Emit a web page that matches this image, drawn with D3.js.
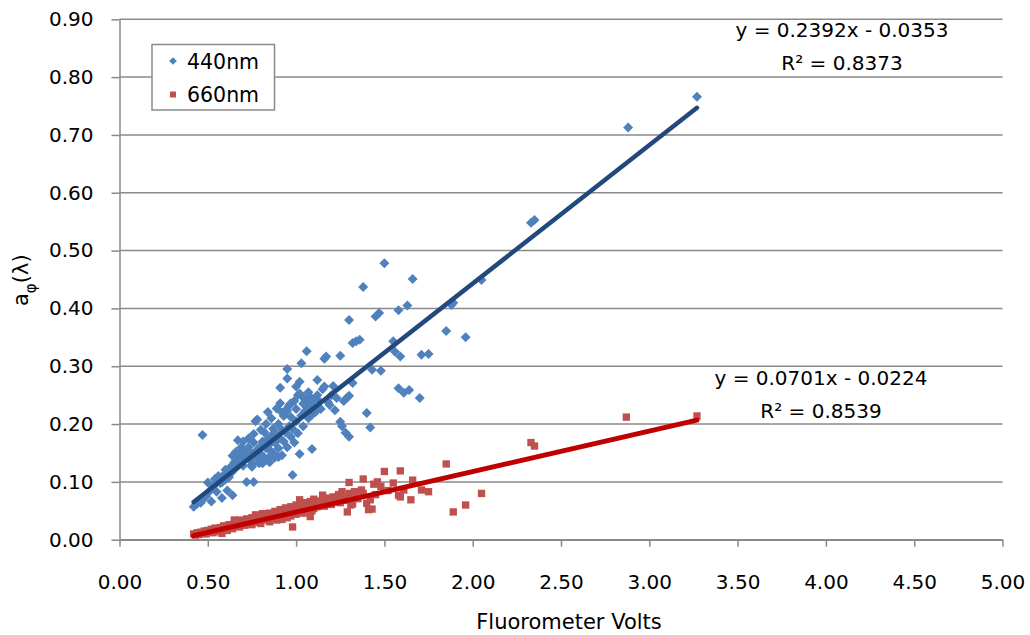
<!DOCTYPE html>
<html><head><meta charset="utf-8">
<script src="https://cdn.jsdelivr.net/npm/d3@7"></script>
<style>body{margin:0;background:#fff}svg{display:block}text{font-family:"DejaVu Sans",sans-serif;fill:#000}</style>
</head><body><svg id="c" width="1030" height="635"></svg>
<script>
const xTicks=[0,0.5,1,1.5,2,2.5,3,3.5,4,4.5,5];
const yTicks=[0,0.1,0.2,0.3,0.4,0.5,0.6,0.7,0.8,0.9];
const seriesNames=["440nm","660nm"];
const fit440={slope:0.2392,intercept:-0.0353,r2:0.8373};
const fit660={slope:0.0701,intercept:-0.0224,r2:0.8539};
const s440=[[0.42,0.057],[0.44,0.062],[0.46,0.064],[0.47,0.069],[0.47,0.181],[0.49,0.075],[0.50,0.099],[0.51,0.084],[0.52,0.066],[0.53,0.092],[0.54,0.105],[0.55,0.083],[0.56,0.110],[0.57,0.098],[0.58,0.072],[0.58,0.099],[0.59,0.112],[0.60,0.121],[0.60,0.104],[0.61,0.085],[0.62,0.108],[0.62,0.115],[0.63,0.126],[0.64,0.077],[0.64,0.118],[0.64,0.145],[0.65,0.134],[0.66,0.140],[0.66,0.152],[0.67,0.172],[0.67,0.127],[0.68,0.149],[0.69,0.136],[0.69,0.160],[0.70,0.155],[0.70,0.128],[0.70,0.170],[0.71,0.145],[0.72,0.100],[0.72,0.144],[0.73,0.160],[0.73,0.175],[0.74,0.138],[0.74,0.152],[0.75,0.130],[0.75,0.126],[0.76,0.100],[0.76,0.168],[0.76,0.183],[0.77,0.144],[0.77,0.205],[0.78,0.156],[0.78,0.208],[0.79,0.135],[0.79,0.132],[0.80,0.162],[0.80,0.148],[0.80,0.190],[0.81,0.170],[0.81,0.132],[0.82,0.142],[0.82,0.186],[0.83,0.158],[0.83,0.138],[0.83,0.200],[0.84,0.221],[0.84,0.175],[0.85,0.134],[0.85,0.165],[0.85,0.144],[0.86,0.210],[0.86,0.180],[0.86,0.152],[0.87,0.150],[0.87,0.192],[0.88,0.168],[0.88,0.142],[0.89,0.227],[0.89,0.182],[0.90,0.200],[0.90,0.158],[0.90,0.143],[0.91,0.263],[0.91,0.175],[0.91,0.236],[0.92,0.190],[0.92,0.146],[0.92,0.220],[0.93,0.214],[0.93,0.170],[0.94,0.224],[0.94,0.186],[0.95,0.295],[0.95,0.279],[0.95,0.160],[0.95,0.223],[0.96,0.196],[0.96,0.232],[0.97,0.178],[0.97,0.212],[0.97,0.236],[0.98,0.112],[0.98,0.192],[0.99,0.240],[0.99,0.168],[1.00,0.205],[1.00,0.226],[1.00,0.265],[1.01,0.184],[1.01,0.250],[1.02,0.273],[1.02,0.148],[1.02,0.253],[1.03,0.305],[1.03,0.215],[1.04,0.235],[1.04,0.196],[1.04,0.247],[1.05,0.242],[1.05,0.222],[1.06,0.326],[1.06,0.230],[1.07,0.210],[1.07,0.255],[1.08,0.247],[1.08,0.238],[1.09,0.157],[1.09,0.216],[1.10,0.230],[1.10,0.242],[1.11,0.221],[1.12,0.276],[1.12,0.250],[1.13,0.240],[1.14,0.226],[1.15,0.260],[1.16,0.313],[1.16,0.265],[1.17,0.317],[1.18,0.238],[1.19,0.233],[1.20,0.250],[1.21,0.266],[1.22,0.224],[1.23,0.245],[1.25,0.318],[1.25,0.204],[1.26,0.196],[1.27,0.240],[1.28,0.185],[1.29,0.246],[1.30,0.380],[1.30,0.178],[1.30,0.249],[1.32,0.271],[1.32,0.340],[1.34,0.343],[1.36,0.346],[1.38,0.437],[1.40,0.219],[1.42,0.194],[1.43,0.294],[1.45,0.386],[1.47,0.392],[1.48,0.292],[1.50,0.478],[1.55,0.343],[1.56,0.325],[1.58,0.262],[1.58,0.397],[1.59,0.317],[1.61,0.254],[1.63,0.405],[1.64,0.259],[1.66,0.451],[1.70,0.245],[1.71,0.320],[1.75,0.321],[1.85,0.361],[1.88,0.406],[1.89,0.410],[1.96,0.350],[2.05,0.449],[2.33,0.548],[2.35,0.553],[2.88,0.713],[3.27,0.766]];
const s660=[[0.42,0.010],[0.43,0.008],[0.44,0.012],[0.45,0.009],[0.46,0.013],[0.47,0.011],[0.48,0.015],[0.49,0.010],[0.50,0.016],[0.51,0.013],[0.52,0.018],[0.53,0.012],[0.54,0.020],[0.55,0.016],[0.56,0.014],[0.57,0.021],[0.58,0.011],[0.58,0.018],[0.59,0.024],[0.60,0.020],[0.61,0.016],[0.62,0.026],[0.63,0.022],[0.64,0.019],[0.65,0.028],[0.65,0.034],[0.66,0.024],[0.67,0.030],[0.68,0.022],[0.68,0.034],[0.69,0.027],[0.70,0.032],[0.71,0.025],[0.72,0.036],[0.72,0.029],[0.73,0.033],[0.74,0.031],[0.75,0.038],[0.75,0.026],[0.76,0.034],[0.77,0.043],[0.77,0.030],[0.78,0.037],[0.79,0.033],[0.80,0.040],[0.80,0.028],[0.81,0.045],[0.82,0.035],[0.83,0.041],[0.83,0.034],[0.84,0.038],[0.85,0.046],[0.85,0.031],[0.86,0.040],[0.87,0.036],[0.88,0.049],[0.88,0.042],[0.89,0.034],[0.90,0.045],[0.90,0.039],[0.91,0.052],[0.92,0.041],[0.92,0.035],[0.93,0.047],[0.94,0.043],[0.94,0.055],[0.95,0.038],[0.95,0.050],[0.96,0.046],[0.97,0.041],[0.97,0.057],[0.98,0.022],[0.98,0.052],[0.99,0.047],[1.00,0.060],[1.00,0.044],[1.01,0.054],[1.02,0.069],[1.02,0.049],[1.03,0.058],[1.04,0.046],[1.05,0.064],[1.05,0.052],[1.06,0.060],[1.07,0.055],[1.08,0.040],[1.08,0.066],[1.09,0.050],[1.10,0.054],[1.10,0.070],[1.11,0.061],[1.12,0.057],[1.13,0.067],[1.14,0.063],[1.15,0.077],[1.16,0.058],[1.17,0.068],[1.18,0.064],[1.19,0.072],[1.20,0.061],[1.21,0.074],[1.22,0.066],[1.23,0.070],[1.24,0.078],[1.25,0.064],[1.26,0.083],[1.27,0.072],[1.28,0.068],[1.29,0.048],[1.30,0.099],[1.30,0.080],[1.31,0.060],[1.32,0.062],[1.33,0.083],[1.34,0.075],[1.35,0.071],[1.37,0.086],[1.38,0.105],[1.38,0.080],[1.40,0.063],[1.41,0.052],[1.42,0.069],[1.43,0.053],[1.44,0.096],[1.45,0.078],[1.46,0.100],[1.48,0.092],[1.50,0.118],[1.52,0.085],[1.55,0.098],[1.58,0.077],[1.59,0.074],[1.59,0.119],[1.61,0.086],[1.65,0.069],[1.66,0.103],[1.71,0.086],[1.75,0.083],[1.85,0.131],[1.89,0.048],[1.96,0.060],[2.05,0.080],[2.33,0.168],[2.35,0.162],[2.87,0.212],[3.27,0.214]];

const svg=d3.select("#c");
const x=d3.scaleLinear().domain([0,5]).range([119.5,1002.5]);
const y=d3.scaleLinear().domain([0,0.9]).range([539.7,19.3]);
const grid="#8a8a8a";

svg.append("g").selectAll("line").data(yTicks).join("line")
 .attr("x1",x(0)).attr("x2",x(5)).attr("y1",d=>y(d)).attr("y2",d=>y(d))
 .attr("stroke",grid).attr("stroke-width",1.5);

const yAx=svg.append("g").attr("transform",`translate(${x(0)},0)`)
 .call(d3.axisLeft(y).tickValues(yTicks).tickFormat(d3.format(".2f")).tickSizeInner(8).tickSizeOuter(0).tickPadding(18));
const xAx=svg.append("g").attr("transform",`translate(0,${y(0)})`)
 .call(d3.axisBottom(x).tickValues(xTicks).tickFormat(d3.format(".2f")).tickSizeInner(7).tickSizeOuter(0).tickPadding(28));
[yAx,xAx].forEach(g=>{
  g.select(".domain").attr("stroke",grid).attr("stroke-width",1.5);
  g.selectAll(".tick line").attr("stroke",grid).attr("stroke-width",1.5);
  g.selectAll("text").attr("font-family","DejaVu Sans").attr("font-size",20).attr("fill","#000");
});

const diamond=d3.symbol().type(d3.symbolSquare).size(50)();
const square=d3.symbol().type(d3.symbolSquare).size(54)();
svg.append("g").selectAll("path").data(s440).join("path")
 .attr("d",diamond).attr("transform",d=>`translate(${x(d[0])},${y(d[1])}) rotate(45)`)
 .attr("fill","#4F81BD");
svg.append("g").selectAll("path").data(s660).join("path")
 .attr("d",square).attr("transform",d=>`translate(${x(d[0])},${y(d[1])})`)
 .attr("fill","#C0504D");

function trend(data,fit,color,w){
  const ext=d3.extent(data,d=>d[0]);
  svg.append("line").attr("x1",x(ext[0])).attr("y1",y(fit.slope*ext[0]+fit.intercept))
   .attr("x2",x(ext[1])).attr("y2",y(fit.slope*ext[1]+fit.intercept))
   .attr("stroke",color).attr("stroke-width",w).attr("stroke-linecap","round");
}
trend(s440,fit440,"#22497E",4.5);
trend(s660,fit660,"#C00000",5);

function eq(fit,cx,by){
  const g=svg.append("g").attr("font-size",20);
  g.append("text").attr("x",cx).attr("y",by).attr("text-anchor","middle")
   .text(`y = ${fit.slope.toFixed(4)}x - ${Math.abs(fit.intercept).toFixed(4)}`);
  g.append("text").attr("x",cx).attr("y",by+33).attr("text-anchor","middle")
   .text(`R² = ${fit.r2.toFixed(4)}`);
}
eq(fit440,842,37);
eq(fit660,821,385);

const lg=svg.append("g");
lg.append("rect").attr("x",152).attr("y",44.5).attr("width",122.5).attr("height",65.5)
 .attr("fill","#fff").attr("stroke",grid).attr("stroke-width",1.5);
lg.append("path").attr("d",d3.symbol().type(d3.symbolSquare).size(30)()).attr("transform","translate(173,61) rotate(45)").attr("fill","#4F81BD");
lg.append("path").attr("d",d3.symbol().type(d3.symbolSquare).size(36)()).attr("transform","translate(173,94.5)").attr("fill","#C0504D");
lg.append("text").attr("x",187).attr("y",69).attr("font-size",20.5).text(seriesNames[0]);
lg.append("text").attr("x",187).attr("y",102).attr("font-size",20.5).text(seriesNames[1]);

svg.append("text").attr("x",569).attr("y",629).attr("text-anchor","middle").attr("font-size",21).text("Fluorometer Volts");
const yl=svg.append("text").attr("transform","translate(28,306) rotate(-90)").attr("font-size",21);
yl.append("tspan").text("a");
yl.append("tspan").attr("dy",8).attr("font-size",15).text("φ");
yl.append("tspan").attr("dy",-8).text("(λ)");
</script></body></html>
